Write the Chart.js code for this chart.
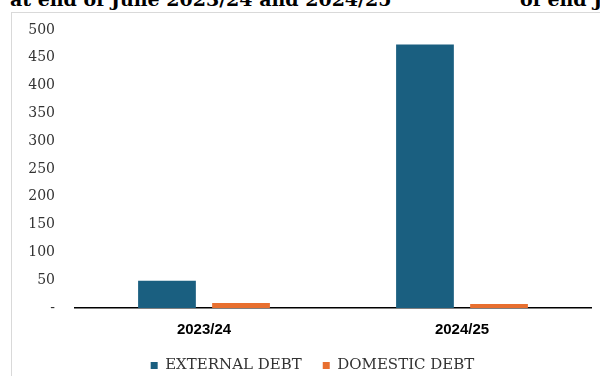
<!DOCTYPE html>
<html>
<head>
<meta charset="utf-8">
<script src="https://cdn.jsdelivr.net/npm/chart.js@4/dist/chart.umd.min.js"></script>
<style>
  html, body { margin: 0; padding: 0; background: #fff; overflow: hidden; width: 600px; height: 376px; }
  .caption { position: absolute; top: -11px; font: bold 19px "DejaVu Serif", serif; color: #000; white-space: nowrap; line-height: 20px; }
  #frame { position: absolute; left: 11px; top: 12px; width: 620px; height: 420px; border: 1px solid #d9d9d9; }
  #wrap { position: absolute; left: 12px; top: 13px; width: 588px; height: 370px; }
</style>
</head>
<body>
<div class="caption" style="left:10px">at end of June 2023/24 and 2024/25</div>
<div class="caption" style="left:520px">of end June</div>
<div id="frame"></div>
<div id="wrap"><canvas id="chart"></canvas></div>
<script>
  // values (USD million)
  var categories = ['2023/24', '2024/25'];
  var externalDebt = [49, 474];
  var domesticDebt = [9, 7];
  var seriesNames = ['EXTERNAL DEBT', 'DOMESTIC DEBT'];
  var yMax = 500;
  var yStep = 50;

  var serif = '"DejaVu Serif", serif';

  new Chart(document.getElementById('chart'), {
    type: 'bar',
    data: {
      labels: categories,
      datasets: [
        { label: seriesNames[0], data: externalDebt, backgroundColor: '#1a5f80' },
        { label: seriesNames[1], data: domesticDebt, backgroundColor: '#e86f2f' }
      ]
    },
    options: {
      responsive: true,
      maintainAspectRatio: false,
      animation: false,
      categoryPercentage: 0.574,
      barPercentage: 0.78,
      layout: { padding: { left: 13, right: 0, top: 17, bottom: 0 } },
      plugins: {
        tooltip: { enabled: false },
        legend: {
          position: 'bottom',
          labels: {
            boxWidth: 7,
            boxHeight: 7,
            padding: 21,
            color: '#333',
            font: { family: serif, size: 15 }
          }
        }
      },
      scales: {
        x: {
          grid: { display: false, drawTicks: false },
          border: { display: true, color: '#000', width: 1.5 },
          ticks: { padding: 13, color: '#000', font: { family: 'Liberation Sans, Arial, sans-serif', size: 15, weight: 'bold' } },
          afterFit: function(scale) { scale.height = 29; }
        },
        y: {
          min: 0,
          max: yMax,
          grid: { display: false, drawTicks: true, tickLength: 20 },
          border: { display: false },
          ticks: {
            stepSize: yStep,
            padding: 0,
            color: '#333',
            font: { family: serif, size: 14 },
            callback: function(v) { return v === 0 ? '-' : v; }
          },
          afterFit: function(scale) { scale.width = 50; }
        },
        // empty right-hand scale, only keeps the plot clear of the right edge
        yRight: {
          axis: 'y',
          position: 'right',
          grid: { display: false, drawTicks: false },
          border: { display: false },
          ticks: { display: false },
          afterFit: function(scale) { scale.width = 9; }
        }
      }
    }
  });
</script>
</body>
</html>
